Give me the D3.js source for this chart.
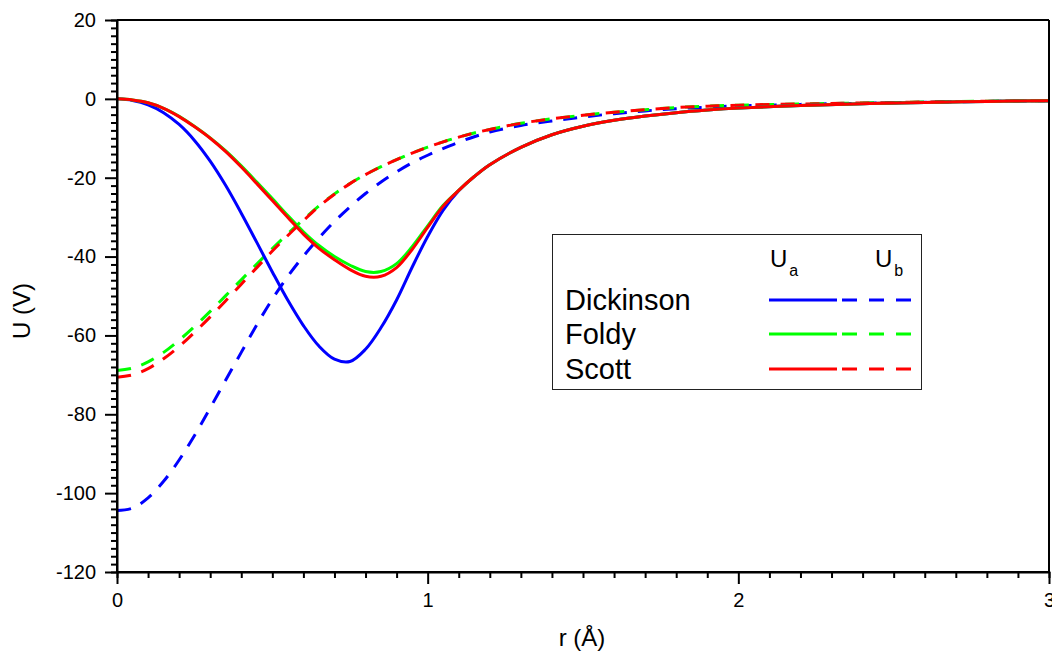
<!DOCTYPE html>
<html>
<head>
<meta charset="utf-8">
<script src="https://cdn.jsdelivr.net/npm/d3@7"></script>
<style>
  html, body { margin: 0; padding: 0; background: #fff; }
  svg { display: block; font-family: "Liberation Sans", Arial, sans-serif; }
</style>
</head>
<body>
<svg id="chart" width="1052" height="656"></svg>
<script>
// ---- data ----
const r = [0, 0.05, 0.1, 0.15, 0.2, 0.25, 0.3, 0.35, 0.4, 0.45, 0.5, 0.55, 0.6, 0.65, 0.7, 0.75, 0.8, 0.85, 0.9, 0.95, 1.0, 1.05, 1.1, 1.15, 1.2, 1.3, 1.4, 1.5, 1.6, 1.7, 1.8, 1.9, 2.0, 2.2, 2.4, 2.6, 2.8, 3.0];

const dickinsonUa = [0, -0.4, -1.5, -3.5, -6.5, -10.6, -15.8, -22.0, -29.0, -36.4, -43.9, -51.1, -57.5, -62.7, -66.0, -66.6, -63.5, -58.0, -51.0, -42.7, -34.9, -28.2, -23.3, -19.7, -16.7, -12.3, -9.1, -6.95, -5.45, -4.35, -3.5, -2.85, -2.35, -1.7, -1.25, -0.9, -0.65, -0.45];
const foldyUa     = [0, -0.3, -1.0, -2.4, -4.4, -7.0, -9.9, -13.2, -17.0, -21.1, -25.3, -29.6, -33.7, -37.2, -40.0, -42.2, -43.8, -43.8, -41.8, -37.5, -32.2, -27.0, -23.2, -19.7, -16.7, -12.3, -9.1, -6.95, -5.45, -4.35, -3.5, -2.85, -2.35, -1.7, -1.25, -0.9, -0.65, -0.45];
const scottUa     = [0, -0.3, -1.0, -2.4, -4.5, -7.1, -10.0, -13.4, -17.3, -21.5, -25.8, -30.1, -34.3, -37.9, -40.8, -43.3, -45.0, -45.0, -42.8, -38.2, -32.6, -27.2, -23.2, -19.7, -16.7, -12.3, -9.1, -6.95, -5.45, -4.35, -3.5, -2.85, -2.35, -1.7, -1.25, -0.9, -0.65, -0.45];

const dickinsonUb = [-104.4, -103.8, -101.2, -97.0, -91.6, -85.3, -78.4, -71.3, -64.3, -57.3, -50.8, -45.0, -39.9, -35.3, -31.1, -27.4, -24.0, -21.1, -18.5, -16.2, -14.3, -12.6, -11.0, -9.6, -8.4, -6.75, -5.6, -4.6, -3.75, -3.05, -2.5, -2.1, -1.8, -1.4, -1.1, -0.85, -0.65, -0.45];
const foldyUb     = [-68.9, -68.3, -66.7, -64.3, -61.2, -57.7, -53.9, -49.9, -45.9, -41.9, -38.0, -34.2, -30.6, -27.15, -24.1, -21.45, -19.2, -17.2, -15.4, -13.75, -12.25, -10.9, -9.7, -8.65, -7.75, -6.2, -5.05, -4.15, -3.4, -2.75, -2.2, -1.85, -1.6, -1.3, -1.05, -0.8, -0.6, -0.45];
const scottUb     = [-70.6, -70.0, -68.4, -65.9, -62.8, -59.2, -55.3, -51.2, -47.0, -42.8, -38.6, -34.65, -30.9, -27.3, -24.2, -21.5, -19.2, -17.2, -15.4, -13.75, -12.25, -10.9, -9.7, -8.65, -7.75, -6.2, -5.05, -4.15, -3.4, -2.75, -2.2, -1.85, -1.6, -1.3, -1.05, -0.8, -0.6, -0.45];

const seriesNames = ["Dickinson", "Foldy", "Scott"];
const seriesColors = ["#0000ff", "#00ff00", "#ff0000"];
const uaValues = [dickinsonUa, foldyUa, scottUa];
const ubValues = [dickinsonUb, foldyUb, scottUb];

const xTickValues = [0, 1, 2, 3];
const yTickValues = [20, 0, -20, -40, -60, -80, -100, -120];
const xTitle = "r (Å)";
const yTitle = "U (V)";

// ---- layout ----
const svg = d3.select("#chart");
const pLeft = 117, pRight = 1049, pTop = 20, pBottom = 572;

const x = d3.scaleLinear().domain([0, 3]).range([pLeft, pRight]);
const y = d3.scaleLinear().domain([-120, 20]).range([pBottom, pTop]);

const xMinor = d3.range(0, 3.0001, 0.1).map(v => +v.toFixed(2)).filter(v => !xTickValues.includes(v));
const yMinor = d3.range(-120, 20.0001, 2).filter(v => !yTickValues.includes(v));

// curves
const line = d3.line()
  .x((d, i) => x(r[i]))
  .y(d => y(d))
  .curve(d3.curveCatmullRom.alpha(0.5));

const plot = svg.append("g");
[0, 1, 2].forEach(k => {
  plot.append("path")
    .attr("d", line(ubValues[k]))
    .attr("fill", "none")
    .attr("stroke", seriesColors[k])
    .attr("stroke-width", 3)
    .attr("stroke-dasharray", "14,11");
});
[0, 1, 2].forEach(k => {
  plot.append("path")
    .attr("d", line(uaValues[k]))
    .attr("fill", "none")
    .attr("stroke", seriesColors[k])
    .attr("stroke-width", 3);
});

// frame (top/right)
svg.append("line").attr("x1", pLeft).attr("x2", pRight).attr("y1", pTop).attr("y2", pTop)
  .attr("stroke", "#000").attr("stroke-width", 2);
svg.append("line").attr("x1", pRight).attr("x2", pRight).attr("y1", pTop).attr("y2", pBottom)
  .attr("stroke", "#000").attr("stroke-width", 2);

// axes
const fmt = d => String(d);
const xAxis = d3.axisBottom(x).tickValues(xTickValues).tickFormat(fmt).tickSize(12).tickPadding(9);
const yAxis = d3.axisLeft(y).tickValues(yTickValues).tickFormat(fmt).tickSize(12).tickPadding(9);

const gx = svg.append("g").attr("transform", `translate(0,${pBottom})`).call(xAxis);
const gy = svg.append("g").attr("transform", `translate(${pLeft},0)`).call(yAxis);

const xMinorAxis = d3.axisBottom(x).tickValues(xMinor).tickFormat("").tickSize(6);
const yMinorAxis = d3.axisLeft(y).tickValues(yMinor).tickFormat("").tickSize(6);
svg.append("g").attr("transform", `translate(0,${pBottom})`).call(xMinorAxis);
svg.append("g").attr("transform", `translate(${pLeft},0)`).call(yMinorAxis);

svg.selectAll(".domain").attr("stroke", "#000").attr("stroke-width", 2);
svg.selectAll(".tick line").attr("stroke", "#000").attr("stroke-width", 2);
svg.selectAll(".tick text").attr("fill", "#000")
  .style("font-family", '"Liberation Sans", Arial, sans-serif').style("font-size", "20px");
gy.selectAll(".domain").attr("d", `M0,${pTop}V${pBottom}`);
gx.selectAll(".domain").attr("d", `M${pLeft},0H${pRight}`);

// axis titles
svg.append("text").attr("x", 582).attr("y", 646).attr("text-anchor", "middle")
  .style("font-size", "24px").text(xTitle);
svg.append("text").attr("transform", "translate(30,311) rotate(-90)").attr("text-anchor", "middle")
  .style("font-size", "24px").text(yTitle);

// legend
const lg = svg.append("g");
lg.append("rect").attr("x", 552.5).attr("y", 234.5).attr("width", 369).attr("height", 155)
  .attr("fill", "#fff").attr("stroke", "#222").attr("stroke-width", 1);

const uLabels = [["U", "a", 770], ["U", "b", 875]];
uLabels.forEach(([main, sub, lx]) => {
  const t = lg.append("text").attr("x", lx).attr("y", 267).style("font-size", "24px");
  t.append("tspan").text(main);
  t.append("tspan").attr("dy", 9).attr("dx", 2).style("font-size", "16px").text(sub);
});

const rowY = [300, 334, 369];
seriesNames.forEach((name, k) => {
  lg.append("text").attr("x", 565).attr("y", rowY[k] + 10).style("font-size", "29px").text(name);
  lg.append("line").attr("x1", 769).attr("x2", 837).attr("y1", rowY[k]).attr("y2", rowY[k])
    .attr("stroke", seriesColors[k]).attr("stroke-width", 3);
  lg.append("line").attr("x1", 842).attr("x2", 911).attr("y1", rowY[k]).attr("y2", rowY[k])
    .attr("stroke", seriesColors[k]).attr("stroke-width", 3).attr("stroke-dasharray", "15,12");
});
</script>
</body>
</html>
